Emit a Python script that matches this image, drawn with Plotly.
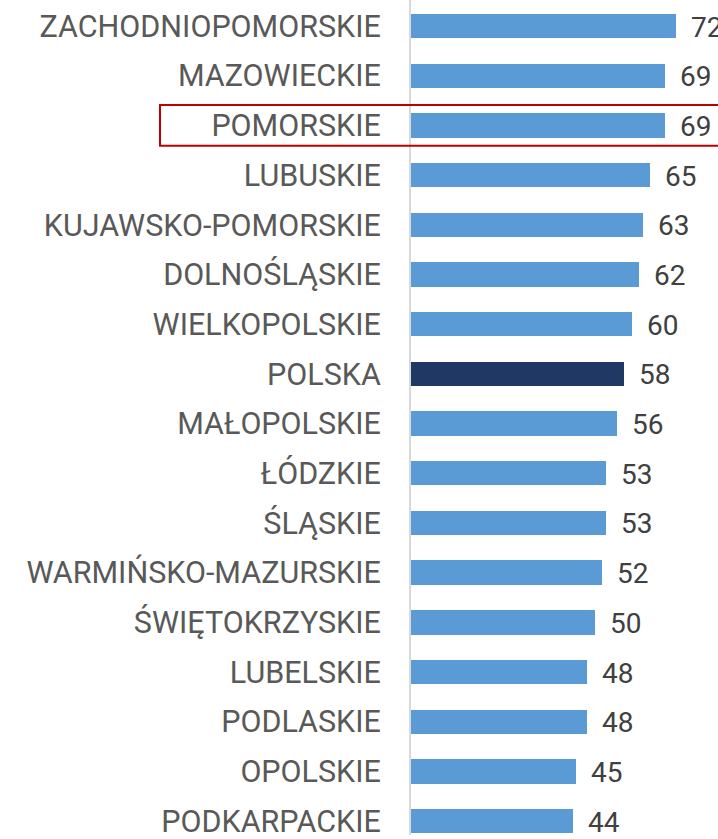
import plotly.graph_objects as go

regions = ['ZACHODNIOPOMORSKIE', 'MAZOWIECKIE', 'POMORSKIE', 'LUBUSKIE',
           'KUJAWSKO-POMORSKIE', 'DOLNOŚLĄSKIE', 'WIELKOPOLSKIE', 'POLSKA',
           'MAŁOPOLSKIE', 'ŁÓDZKIE', 'ŚLĄSKIE', 'WARMIŃSKO-MAZURSKIE',
           'ŚWIĘTOKRZYSKIE', 'LUBELSKIE', 'PODLASKIE', 'OPOLSKIE', 'PODKARPACKIE']
values = [72, 69, 69, 65, 63, 62, 60, 58, 56, 53, 53, 52, 50, 48, 48, 45, 44]
highlight = 'POMORSKIE'
total = 'POLSKA'

bar_color = '#5B9BD5'
total_color = '#1F3864'
colors = [total_color if r == total else bar_color for r in regions]

fig = go.Figure()
fig.add_trace(go.Bar(
    x=values, y=regions, orientation='h',
    marker=dict(color=colors, line=dict(width=0)),
    width=0.49, hoverinfo='x+y',
))

# value labels to the right of each bar
for r, v in zip(regions, values):
    fig.add_annotation(x=v, y=r, text=str(v), showarrow=False,
                       xanchor='left', yanchor='middle', xshift=13, yshift=-1,
                       font=dict(family='Roboto', size=28, color='#404040'))

# red frame around the highlighted region
hi = regions.index(highlight)
fig.add_shape(type='rect', xref='paper', yref='y',
              x0=-0.8176, x1=1.03, y0=hi - 0.41, y1=hi + 0.41,
              line=dict(color='#C00000', width=2), fillcolor='rgba(0,0,0,0)',
              opacity=1, layer='above')

fig.update_xaxes(range=[0, 83.5], visible=False, showgrid=False, zeroline=False)
fig.update_yaxes(type='category', categoryorder='array', categoryarray=regions,
                 range=[16.28, -0.525], showgrid=False, zeroline=False,
                 showline=True, linecolor='#D9D9D9', linewidth=2,
                 ticks='', ticklabelstandoff=22,
                 tickfont=dict(family='Roboto', size=30.5, color='#595959'))

fig.update_layout(width=718, height=839,
                  margin=dict(l=411, r=0, t=0, b=0),
                  plot_bgcolor='white', paper_bgcolor='white',
                  showlegend=False, bargap=0)

fig.write_html("out.html", config={'displayModeBar': False},
               post_script="document.body.style.margin='0';"
                           "document.body.style.overflow='hidden';")
